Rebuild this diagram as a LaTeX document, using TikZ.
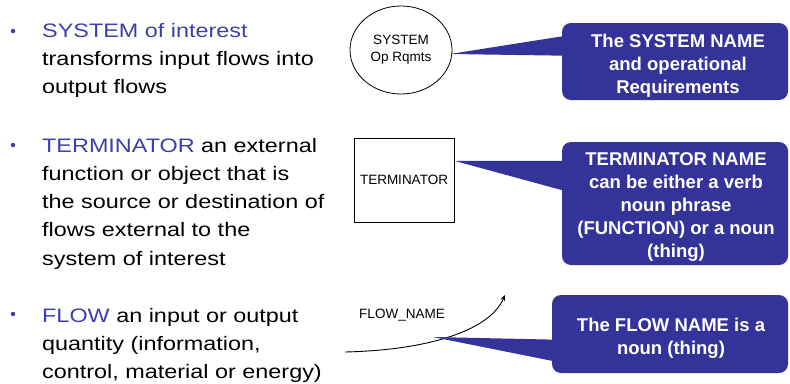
\documentclass[tikz,border=0pt]{standalone}
\usepackage{fontspec}
\setmainfont{Liberation Sans}
\newfontfamily\widefont{Liberation Sans}[FakeStretch=1.2]
\usetikzlibrary{arrows.meta}
\usetikzlibrary{shapes.geometric}
\usetikzlibrary{calc}
\definecolor{notefill}{RGB}{51,51,153}
\definecolor{termblue}{RGB}{62,62,170}

\begin{document}
\begin{tikzpicture}[x=1pt, y=-1pt,
	bullettext/.style={anchor=base west, align=left, inner sep=0pt, font=\widefont\fontsize{19.5}{28.3}\selectfont},
	dot/.style={circle, fill=termblue, inner sep=0pt, minimum size=4.5pt},
	smalltext/.style={font=\fontsize{13.5}{17}\selectfont},
	notebox/.style={fill=notefill, rounded corners=9pt, inner sep=0pt},
	notetext/.style={text=white, align=center, inner sep=0pt, font=\bfseries\fontsize{18.5}{23}\selectfont},
	notetail/.style={fill=notefill}]

		\useasboundingbox (0,0) rectangle (790,383);

		\node[dot] (b1) at (13,31) {};
		\node[bullettext] (t1) at (42,93.6) {\textcolor{termblue}{SYSTEM of interest}\\transforms input flows into\\output flows};

		\node[dot] (b2) at (13,145) {};
		\node[bullettext] (t2) at (42,265.2) {\textcolor{termblue}{TERMINATOR} an external\\function or object that is\\the source or destination of\\flows external to the\\system of interest};

		\node[dot] (b3) at (13,314) {};
		\node[bullettext] (t3) at (42,378.6) {\textcolor{termblue}{FLOW} an input or output\\quantity (information,\\control, material or energy)};

		\node[ellipse, draw, line width=0.8pt, minimum width=102pt, minimum height=88pt, align=center, smalltext] (sys) at (401,50) {SYSTEM\\Op Rqmts};

		\node[rectangle, draw, line width=0.8pt, minimum width=100pt, minimum height=84pt, smalltext] (term) at (404,180) {TERMINATOR};

		\coordinate (fstart) at (345,352);
		\coordinate (fend) at (505,295);
		\draw[-{Stealth[length=6pt,width=5pt]}, line width=0.9pt] (fstart) .. controls (430,350) and (490,330) .. (fend);
		\node[smalltext] (fname) at (402,315) {FLOW\_NAME};

		\node[notebox, minimum width=226pt, minimum height=77pt] (sysnote) at (675,61.5) {};
		\node[notebox, minimum width=226pt, minimum height=123pt] (termnote) at (675,203.5) {};
		\node[notebox, minimum width=236pt, minimum height=78pt] (flownote) at (670,334) {};

		\coordinate (systip) at (450,54);
		\coordinate (termtip) at (455,161);
		\coordinate (flowtip) at (433,337);

		\fill[notetail] (systip) -- ($(sysnote.north west)+(10,12)$) -- ($(sysnote.north west)+(10,33)$) -- cycle;
		\fill[notetail] (termtip) -- ($(termnote.north west)+(10,19)$) -- ($(termnote.north west)+(10,51)$) -- cycle;
		\fill[notetail] (flowtip) -- ($(flownote.north west)+(10,45)$) -- ($(flownote.north west)+(10,68)$) -- cycle;

		\node[notetext] (systext) at ($(sysnote)+(3,4)$) {The SYSTEM NAME\\and operational\\Requirements};
		\node[notetext] (termtext) at ($(termnote)+(1,3)$) {TERMINATOR NAME\\can be either a verb\\noun phrase\\(FUNCTION) or a noun\\(thing)};
		\node[notetext] (flowtext) at ($(flownote)+(1,4)$) {The FLOW NAME is a\\noun (thing)};
	\end{tikzpicture}
\end{document}
